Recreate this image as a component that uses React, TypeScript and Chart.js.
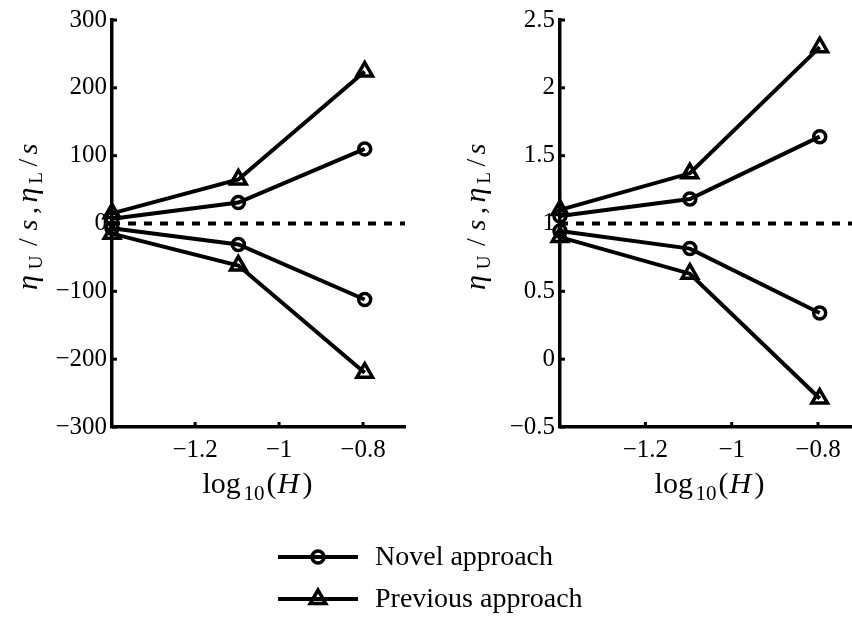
import React, { useEffect, useRef } from 'react';
import { Chart, registerables } from 'chart.js';

Chart.register(...registerables);

// ---------- data ----------
const xValues = [-1.398, -1.097, -0.796]; // log10(H) for H = 0.04, 0.08, 0.16
const xTicks = [-1.2, -1, -0.8];
const xTickLabels = ['\u22121.2', '\u22121', '\u22120.8'];

const leftNovelUpper = [7, 31, 110];
const leftNovelLower = [-7, -31, -112];
const leftPrevUpper = [15, 65, 224];
const leftPrevLower = [-15, -62, -220];
const leftYTicks = [-300, -200, -100, 0, 100, 200, 300];
const leftYTickLabels = ['\u2212300', '\u2212200', '\u2212100', '0', '100', '200', '300'];
const leftReference = 0;

const rightNovelUpper = [1.055, 1.18, 1.64];
const rightNovelLower = [0.945, 0.815, 0.34];
const rightPrevUpper = [1.1, 1.37, 2.3];
const rightPrevLower = [0.9, 0.63, -0.29];
const rightYTicks = [-0.5, 0, 0.5, 1, 1.5, 2, 2.5];
const rightYTickLabels = ['\u22120.5', '0', '0.5', '1', '1.5', '2', '2.5'];
const rightReference = 1;

const legendLabels = ['Novel approach', 'Previous approach'];

// ---------- styling ----------
const FAMILY = '"Liberation Serif", "Times New Roman", serif';
const BLACK = '#000000';
const W = 852;
const H = 625;
const RIGHT_CANVAS_W = 865; // Chart.js keeps ~12.5px at the right; the page clips it

function labelFor(values: number[], labels: string[], v: number) {
  const i = values.findIndex((t) => Math.abs(t - v) < 1e-9);
  return i >= 0 ? labels[i] : '';
}

function series(ys: number[]) {
  return xValues.map((x, i) => ({ x, y: ys[i] }));
}

function drawTriangle(ctx: CanvasRenderingContext2D, x: number, y: number, r: number) {
  let rad = 0;
  ctx.beginPath();
  ctx.moveTo(x + Math.sin(rad) * r, y - Math.cos(rad) * r);
  rad += (2 * Math.PI) / 3;
  ctx.lineTo(x + Math.sin(rad) * r, y - Math.cos(rad) * r);
  rad += (2 * Math.PI) / 3;
  ctx.lineTo(x + Math.sin(rad) * r, y - Math.cos(rad) * r);
  ctx.closePath();
  ctx.stroke();
}

type Panel = {
  novelUpper: number[];
  novelLower: number[];
  prevUpper: number[];
  prevLower: number[];
  yTicks: number[];
  yTickLabels: string[];
  reference: number;
  xMin: number;
  xMax: number;
  yAxisWidth: number;
  padRight: number;
  withLegend: boolean;
};

function makeChart(canvas: HTMLCanvasElement, p: Panel) {
  const lineBase = {
    borderColor: BLACK,
    borderWidth: 4,
    pointBorderColor: BLACK,
    pointBackgroundColor: 'rgba(0,0,0,0)',
    pointBorderWidth: 3.5,
    clip: false as any,
    fill: false,
    tension: 0,
  };
  const decor = {
    id: 'decor',
    afterDraw(chart: any) {
      const ctx: CanvasRenderingContext2D = chart.ctx;
      const area = chart.chartArea;
      const xs = chart.scales.x;
      const ys = chart.scales.y;
      ctx.save();
      ctx.strokeStyle = BLACK;
      ctx.fillStyle = BLACK;
      // inward tick marks
      ctx.lineWidth = 3;
      xTicks.forEach((v) => {
        const px = xs.getPixelForValue(v);
        ctx.beginPath();
        ctx.moveTo(px, area.bottom);
        ctx.lineTo(px, area.bottom - 5);
        ctx.stroke();
      });
      p.yTicks.forEach((v) => {
        const py = ys.getPixelForValue(v);
        ctx.beginPath();
        ctx.moveTo(area.left, py);
        ctx.lineTo(area.left + 5, py);
        ctx.stroke();
      });

      // x-axis title: log10(H)
      const cx = xs.getPixelForValue(-1.049);
      const by = area.bottom + 66;
      ctx.textAlign = 'left';
      ctx.textBaseline = 'alphabetic';
      ctx.font = `30px ${FAMILY}`;
      ctx.fillText('log', cx - 56, by);
      ctx.font = `21px ${FAMILY}`;
      ctx.fillText('10', cx - 15, by + 7);
      ctx.font = `30px ${FAMILY}`;
      ctx.fillText('(', cx + 8, by);
      ctx.font = `italic 30px ${FAMILY}`;
      ctx.fillText('H', cx + 19, by);
      ctx.font = `30px ${FAMILY}`;
      ctx.fillText(')', cx + 44, by);

      // y-axis title: ηU/s, ηL/s (rotated)
      const bx = area.left - 75;
      const sy = (area.top + area.bottom) / 2 + 69.5;
      ctx.translate(bx, sy);
      ctx.rotate(-Math.PI / 2);
      ctx.textAlign = 'center';
      const pieces: [string, string, number, number][] = [
        ['\u03B7', `italic 30px ${FAMILY}`, 10.5, 0],
        ['U', `19px ${FAMILY}`, 30.5, 5],
        ['/', `28px ${FAMILY}`, 51, 0],
        ['s', `italic 28px ${FAMILY}`, 68, 0],
        [',', `28px ${FAMILY}`, 82.5, 0],
        ['\u03B7', `italic 30px ${FAMILY}`, 98, 0],
        ['L', `19px ${FAMILY}`, 115, 5],
        ['/', `28px ${FAMILY}`, 130.5, 0],
        ['s', `italic 28px ${FAMILY}`, 144, 0],
      ];
      pieces.forEach(([t, f, dx, dy]) => {
        ctx.font = f;
        ctx.fillText(t, dx, dy);
      });
      ctx.setTransform(1, 0, 0, 1, 0, 0);

      // legend
      if (p.withLegend) {
        const rows = [557, 599];
        rows.forEach((ry, i) => {
          ctx.lineWidth = 4;
          ctx.beginPath();
          ctx.moveTo(278, ry);
          ctx.lineTo(358, ry);
          ctx.stroke();
          ctx.lineWidth = 3.5;
          if (i === 0) {
            ctx.beginPath();
            ctx.arc(318, ry, 6, 0, Math.PI * 2);
            ctx.stroke();
          } else {
            drawTriangle(ctx, 318, ry, 9);
          }
          ctx.font = `28px ${FAMILY}`;
          ctx.textAlign = 'left';
          ctx.textBaseline = 'alphabetic';
          ctx.fillText(legendLabels[i], 375, ry + 8);
        });
      }
      ctx.restore();
    },
  };

  return new Chart(canvas, {
    type: 'line',
    data: {
      datasets: [
        { ...lineBase, label: legendLabels[0], data: series(p.novelUpper), pointStyle: 'circle', pointRadius: 6 },
        { ...lineBase, label: legendLabels[0] + ' lower', data: series(p.novelLower), pointStyle: 'circle', pointRadius: 6 },
        { ...lineBase, label: legendLabels[1], data: series(p.prevUpper), pointStyle: 'triangle', pointRadius: 9 },
        { ...lineBase, label: legendLabels[1] + ' lower', data: series(p.prevLower), pointStyle: 'triangle', pointRadius: 9 },
        {
          label: 'reference',
          data: [
            { x: p.xMin, y: p.reference },
            { x: p.xMax, y: p.reference },
          ],
          borderColor: BLACK,
          borderWidth: 4,
          borderDash: [8, 8],
          pointRadius: 0,
          order: 10,
        },
      ] as any,
    },
    options: {
      animation: false,
      responsive: false,
      events: [],
      layout: { padding: { top: 20, right: p.padRight, left: 0, bottom: 0 } },
      plugins: { legend: { display: false }, tooltip: { enabled: false } },
      scales: {
        x: {
          type: 'linear',
          min: p.xMin,
          max: p.xMax,
          grid: { display: false, drawTicks: false },
          border: { display: true, width: 3.5, color: BLACK },
          ticks: {
            color: BLACK,
            font: { family: FAMILY, size: 25 },
            padding: 8,
            autoSkip: false,
            maxRotation: 0,
            callback: (v: any) => labelFor(xTicks, xTickLabels, Number(v)),
          },
          afterBuildTicks: (s: any) => {
            s.ticks = xTicks.map((value) => ({ value }));
          },
          afterFit: (s: any) => {
            s.height = 198;
            s.paddingLeft = 0;
            s.paddingRight = 0;
          },
        },
        y: {
          type: 'linear',
          min: p.yTicks[0],
          max: p.yTicks[p.yTicks.length - 1],
          grid: { display: false, drawTicks: false },
          border: { display: true, width: 3.5, color: BLACK },
          ticks: {
            color: BLACK,
            font: { family: FAMILY, size: 25 },
            padding: 5,
            autoSkip: false,
            callback: (v: any) => labelFor(p.yTicks, p.yTickLabels, Number(v)),
          },
          afterBuildTicks: (s: any) => {
            s.ticks = p.yTicks.map((value) => ({ value }));
          },
          afterFit: (s: any) => {
            s.width = p.yAxisWidth;
          },
        },
      },
    } as any,
    plugins: [decor],
  });
}

export default function App() {
  const leftRef = useRef<HTMLCanvasElement>(null);
  const rightRef = useRef<HTMLCanvasElement>(null);

  useEffect(() => {
    const a = makeChart(leftRef.current!, {
      novelUpper: leftNovelUpper,
      novelLower: leftNovelLower,
      prevUpper: leftPrevUpper,
      prevLower: leftPrevLower,
      yTicks: leftYTicks,
      yTickLabels: leftYTickLabels,
      reference: leftReference,
      xMin: -1.398,
      xMax: -0.7,
      yAxisWidth: 112,
      padRight: W - 405,
      withLegend: true,
    });
    const b = makeChart(rightRef.current!, {
      novelUpper: rightNovelUpper,
      novelLower: rightNovelLower,
      prevUpper: rightPrevUpper,
      prevLower: rightPrevLower,
      yTicks: rightYTicks,
      yTickLabels: rightYTickLabels,
      reference: rightReference,
      xMin: -1.398,
      xMax: -0.72,
      yAxisWidth: 560,
      padRight: 0,
      withLegend: false,
    });
    return () => {
      a.destroy();
      b.destroy();
    };
  }, []);

  const canvasStyle: React.CSSProperties = { position: 'absolute', left: 0, top: 0 };
  return (
    <div
      style={{
        position: 'absolute',
        left: 0,
        top: 0,
        width: W,
        height: H,
        background: '#fff',
        overflow: 'hidden',
      }}
    >
      <canvas ref={leftRef} width={W} height={H} style={canvasStyle} />
      <canvas ref={rightRef} width={RIGHT_CANVAS_W} height={H} style={canvasStyle} />
    </div>
  );
}
